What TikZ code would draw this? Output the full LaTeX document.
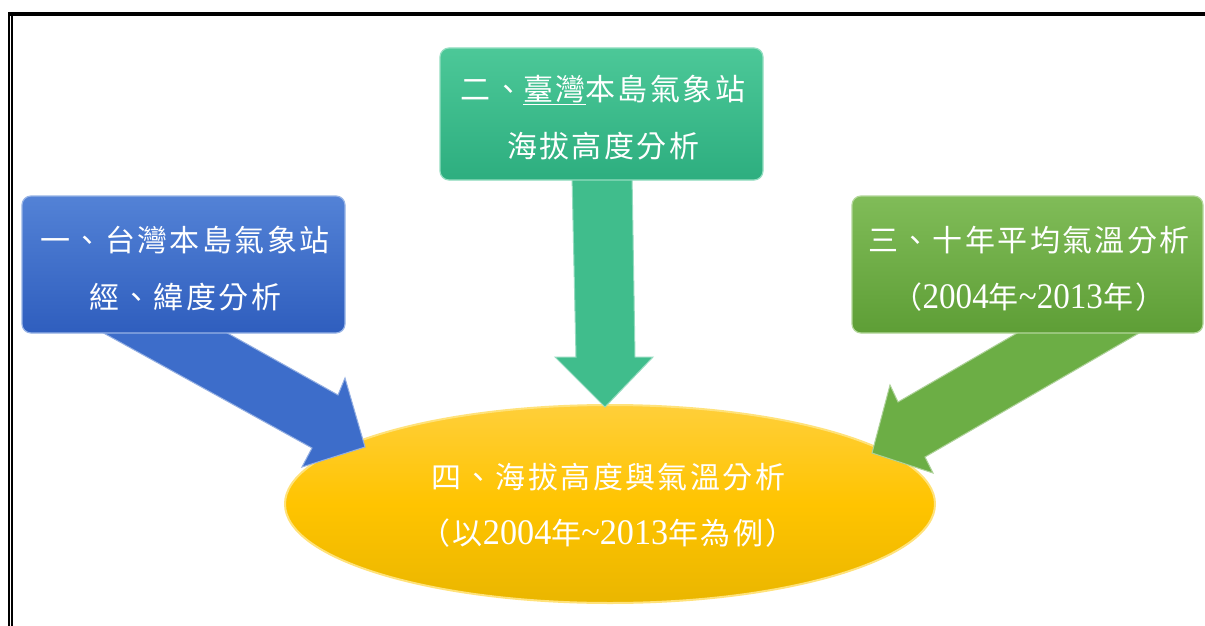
\documentclass[tikz,border=0pt]{standalone}
\usepackage{fontspec}
\usetikzlibrary{shapes.geometric}
\newfontfamily\cjk[LetterSpace=8]{Noto Sans CJK TC}
\newfontfamily\numwide[FakeStretch=0.92]{Liberation Serif}
\newfontfamily\numnarrow[FakeStretch=0.95]{Liberation Serif}
\newcommand{\numsA}[1]{{\numwide\fontsize{36}{57}\selectfont #1}}
\newcommand{\numsB}[1]{{\numnarrow\fontsize{36}{56}\selectfont #1}}
\definecolor{blueTop}{HTML}{5382D6}
\definecolor{blueBot}{HTML}{2F5EBE}
\definecolor{blueArr}{HTML}{3D6DCA}
\definecolor{tealTop}{HTML}{4CC898}
\definecolor{tealBot}{HTML}{2DAE7F}
\definecolor{tealArr}{HTML}{40BD8C}
\definecolor{grnTop}{HTML}{80BC58}
\definecolor{grnBot}{HTML}{5E9E36}
\definecolor{grnArr}{HTML}{6CAE45}
\definecolor{ylwTop}{HTML}{FFCF3A}
\definecolor{ylwMid}{HTML}{FFC400}
\definecolor{ylwBot}{HTML}{EAB600}
\definecolor{ylwRim}{HTML}{FFE27A}
\begin{document}
\begin{tikzpicture}[x=1pt,y=-1pt,
  stepbox/.style={rounded corners=9pt, inner sep=0pt, line width=1.2pt, text=white, align=center},
  arrowshape/.style={fill=#1, draw=#1!55!white, line width=1pt, line join=miter},
  boxtext/.style={text=white, align=center, font=\cjk\fontsize{30}{57}\selectfont},
  elltext/.style={text=white, align=center, font=\cjk\fontsize{30}{56}\selectfont}]
\useasboundingbox (0,0) rectangle (1205,626);
\fill[white] (0,0) rectangle (1205,626);
% frame
\draw[line width=4pt] (8,14) -- (1205,14);
\draw[line width=2pt] (9,12) -- (9,626);
\draw[line width=1.3pt] (11.9,16) -- (11.9,626);
% ellipse
\node[ellipse, minimum width=650pt, minimum height=198pt, inner sep=0pt,
      top color=ylwTop, bottom color=ylwBot, middle color=ylwMid,
      draw=ylwRim, line width=2pt] (e4) at (610,504) {};
% middle arrow
\coordinate (m1) at (572,175);
\coordinate (m2) at (632,175);
\coordinate (m3) at (635,357);
\coordinate (m4) at (653,357);
\coordinate (m5) at (605,407);
\coordinate (m6) at (555,357);
\coordinate (m7) at (576,357);
\path[arrowshape=tealArr] (m1) -- (m2) -- (m3) -- (m4) -- (m5) -- (m6) -- (m7) -- cycle;
% left arrow
\coordinate (l1) at (213,325);
\coordinate (l2) at (338,395);
\coordinate (l3) at (345,378);
\coordinate (l4) at (365,447);
\coordinate (l5) at (302,467);
\coordinate (l6) at (312,448);
\coordinate (l7) at (89,325);
\path[arrowshape=blueArr] (l1) -- (l2) -- (l3) -- (l4) -- (l5) -- (l6) -- (l7) -- cycle;
% right arrow
\coordinate (r1) at (1031,325);
\coordinate (r2) at (898,402);
\coordinate (r3) at (890,385);
\coordinate (r4) at (872,453);
\coordinate (r5) at (933,473);
\coordinate (r6) at (925,457);
\coordinate (r7) at (1153,325);
\path[arrowshape=grnArr] (r1) -- (r2) -- (r3) -- (r4) -- (r5) -- (r6) -- (r7) -- cycle;
% boxes
\node[stepbox, minimum width=323pt, minimum height=137pt, top color=blueTop, bottom color=blueBot, draw=blueTop!60!white] (b1) at (183.5,264.5) {};
\node[stepbox, minimum width=323pt, minimum height=132pt, top color=tealTop, bottom color=tealBot, draw=tealTop!60!white] (b2) at (601.5,114) {};
\node[stepbox, minimum width=351pt, minimum height=137pt, top color=grnTop, bottom color=grnBot, draw=grnTop!60!white] (b3) at (1027.5,264.5) {};
% texts
\node[boxtext] (t1) at (185,268.5) {一、台灣本島氣象站\\經、緯度分析};
\node[boxtext] (t2) at (603,117.5) {二、\underline{臺灣}本島氣象站\\海拔高度分析};
\node[boxtext] (t3) at (1029,268.5) {三、十年平均氣溫分析\\（\numsA{2004}年\numsA{\textasciitilde2013}年）};
\node[elltext] (t4) at (608,505) {四、海拔高度與氣溫分析\\（以\numsB{2004}年\numsB{\textasciitilde2013}年為例）};
\end{tikzpicture}
\end{document}
